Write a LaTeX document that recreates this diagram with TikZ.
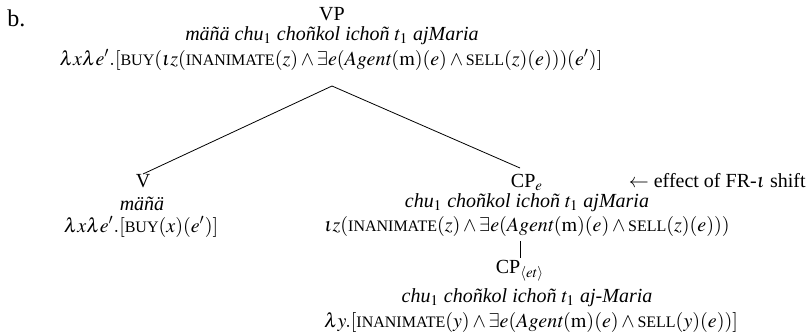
\documentclass[tikz,border=0pt]{standalone}
\usepackage{mathptmx}
\usepackage[no-math]{fontspec}
\setmainfont{Liberation Serif}
\newcommand\SCp[1]{\mbox{\fontsize{8pt}{8pt}\selectfont #1}}
\begin{document}
\begin{tikzpicture}[x=0.5pt,y=-0.5pt,
  lbl/.style={anchor=base,inner sep=0pt,font=\fontsize{10pt}{12pt}\selectfont},
  edge/.style={line width=0.4pt}]
\useasboundingbox (0,0) rectangle (809,332);
\node[lbl,anchor=base west,font=\fontsize{12pt}{14pt}\selectfont] (b) at (7,26) {b.};
% VP
\node[lbl] (VP) at (332,20) {VP};
\node[lbl] (VPw) at (332,40) {\itshape mäñä chu$_1$ choñkol ichoñ $t_1$ ajMaria};
\node[lbl] (VPf) at (331,65) {$\lambda x\lambda e'.[\SCp{BUY}(\iota z(\SCp{INANIMATE}(z)\wedge\exists e(\mathit{Agent}(\mathrm{m})(e)\wedge\SCp{SELL}(z)(e)))(e')]$};
\coordinate (VPb) at (332,86);
% V
\node[lbl] (V) at (143,187) {V};
\node[lbl] (Vw) at (142,210) {\itshape mäñä};
\node[lbl] (Vf) at (141,232) {$\lambda x\lambda e'.[\SCp{BUY}(x)(e')]$};
% CP_e
\node[lbl] (CPe) at (527,187) {CP$_e$};
\node[lbl] (CPew) at (527,207) {\itshape chu$_1$ choñkol ichoñ $t_1$ ajMaria};
\node[lbl] (CPef) at (527,231) {$\iota z(\SCp{INANIMATE}(z)\wedge\exists e(\mathit{Agent}(\mathrm{m})(e)\wedge\SCp{SELL}(z)(e)))$};
\node[lbl,anchor=base east] (note) at (806,187) {$\leftarrow$ effect of FR-$\iota$ shift};
% CP_et
\node[lbl] (CPet) at (520,273) {CP$_{\langle et\rangle}$};
\node[lbl] (CPetw) at (527,302) {\itshape chu$_1$ choñkol ichoñ $t_1$ aj-Maria};
\node[lbl] (CPetf) at (531,327) {$\lambda y.[\SCp{INANIMATE}(y)\wedge\exists e(\mathit{Agent}(\mathrm{m})(e)\wedge\SCp{SELL}(y)(e))]$};
\coordinate (CPeb) at (520,241);
\coordinate (CPett) at (520,258);
\coordinate (Vt) at (143,174);
\coordinate (CPet0) at (520,168);
\draw[edge] (VPb) -- (Vt);
\draw[edge] (VPb) -- (CPet0);
\draw[edge] (CPeb) -- (CPett);
\end{tikzpicture}
\end{document}
